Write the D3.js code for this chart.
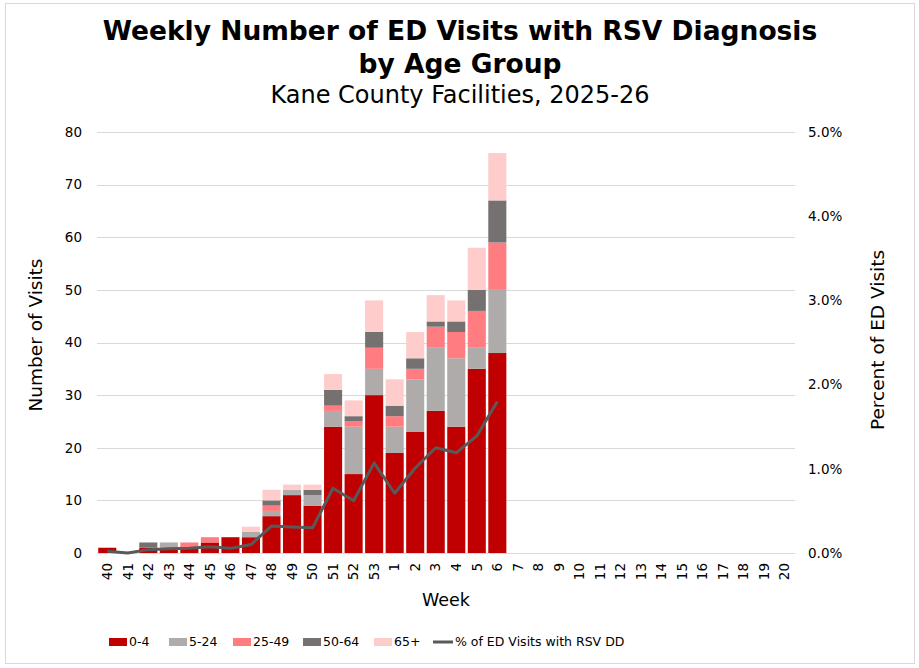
<!DOCTYPE html>
<html lang="en">
<head>
    <meta charset="UTF-8">
    <title>Weekly Number of ED Visits with RSV Diagnosis</title>
    <script src="https://d3js.org/d3.v7.min.js"></script>
    <style>
        body { margin: 0; background: #fff; }
        svg text { font-family: "DejaVu Sans", Verdana, sans-serif; fill: #000; }
    </style>
</head>
<body>
<svg id="chart" width="919" height="668"></svg>
<script>
    // weeks of the 2025-26 season
    var weeks = ["40", "41", "42", "43", "44", "45", "46", "47", "48", "49", "50", "51", "52", "53",
        "1", "2", "3", "4", "5", "6", "7", "8", "9", "10", "11", "12", "13", "14", "15", "16", "17", "18", "19", "20"];

    // visits per age group (weeks 40 .. 6)
    var age0_4   = [1, 0, 1, 1, 1, 2, 3, 3, 7, 11, 9, 24, 15, 30, 19, 23, 27, 24, 35, 38];
    var age5_24  = [0, 0, 0, 1, 0, 0, 0, 1, 1, 1, 2, 3, 9, 5, 5, 10, 12, 13, 4, 12];
    var age25_49 = [0, 0, 0, 0, 1, 1, 0, 0, 1, 0, 0, 1, 1, 4, 2, 2, 4, 5, 7, 9];
    var age50_64 = [0, 0, 1, 0, 0, 0, 0, 0, 1, 0, 1, 3, 1, 3, 2, 2, 1, 2, 4, 8];
    var age65    = [0, 0, 0, 0, 0, 0, 0, 1, 2, 1, 1, 3, 3, 6, 5, 5, 5, 4, 8, 9];

    // % of ED visits with RSV diagnosis
    var pctRsv = [0.02, 0, 0.04, 0.05, 0.055, 0.075, 0.055, 0.10, 0.32, 0.31, 0.30, 0.77, 0.62, 1.07,
        0.71, 1.01, 1.25, 1.19, 1.39, 1.80];

    var groups = ["0-4", "5-24", "25-49", "50-64", "65+"];
    var color = ["#c00000", "#afabab", "#ff7c80", "#767171", "#ffcccc"];
    var leftTicks = [0, 10, 20, 30, 40, 50, 60, 70, 80];
    var rightTicks = [0, 1, 2, 3, 4, 5];

    var svg = d3.select("#chart");
    var plotLeft = 97, plotRight = 795, plotTop = 132, plotBottom = 553;

    svg.append("rect")
        .attr("x", 5.5).attr("y", 3.5)
        .attr("width", 909).attr("height", 660)
        .attr("fill", "#fff").attr("stroke", "#d9d9d9");

    var x = d3.scaleBand().domain(weeks).range([plotLeft, plotRight]).paddingInner(0.12).paddingOuter(0.06);
    var y = d3.scaleLinear().domain([0, 80]).range([plotBottom, plotTop]);
    var y2 = d3.scaleLinear().domain([0, 5]).range([plotBottom, plotTop]);

    // gridlines
    svg.append("g")
        .selectAll("line")
        .data(leftTicks)
        .enter()
        .append("line")
        .attr("x1", plotLeft).attr("x2", plotRight)
        .attr("y1", function (d) { return Math.round(y(d)) + 0.5; })
        .attr("y2", function (d) { return Math.round(y(d)) + 0.5; })
        .attr("stroke", "#d9d9d9").attr("stroke-width", 1);

    // axes
    var yAxis = svg.append("g")
        .attr("transform", "translate(" + plotLeft + ",0)")
        .call(d3.axisLeft(y).tickValues(leftTicks).tickSize(0).tickPadding(15));
    yAxis.select(".domain").remove();
    yAxis.selectAll("text").attr("font-size", 13.5).attr("fill", "#000");

    var y2Axis = svg.append("g")
        .attr("transform", "translate(" + plotRight + ",0)")
        .call(d3.axisRight(y2).tickValues(rightTicks).tickSize(0).tickPadding(13)
            .tickFormat(function (d) { return d.toFixed(1) + "%"; }));
    y2Axis.select(".domain").remove();
    y2Axis.selectAll("text").attr("font-size", 13.5).attr("fill", "#000");

    var xAxis = svg.append("g")
        .attr("transform", "translate(0," + plotBottom + ")")
        .call(d3.axisBottom(x).tickSize(0).tickPadding(0));
    xAxis.select(".domain").remove();
    xAxis.selectAll("text")
        .attr("font-size", 13.5)
        .attr("fill", "#000")
        .attr("text-anchor", "end")
        .attr("transform", "translate(0,10) rotate(-90)")
        .attr("x", 0).attr("y", 0).attr("dy", "0.35em");

    // stacked bars
    var rows = age0_4.map(function (d, i) {
        return {week: weeks[i], "0-4": age0_4[i], "5-24": age5_24[i], "25-49": age25_49[i],
            "50-64": age50_64[i], "65+": age65[i]};
    });
    var series = d3.stack().keys(groups)(rows);

    svg.append("g")
        .selectAll("g")
        .data(series)
        .enter()
        .append("g")
        .attr("fill", function (d, i) { return color[i]; })
        .selectAll("rect")
        .data(function (d) { return d; })
        .enter()
        .append("rect")
        .attr("x", function (d) { return x(d.data.week); })
        .attr("width", x.bandwidth())
        .attr("y", function (d) { return y(d[1]); })
        .attr("height", function (d) { return y(d[0]) - y(d[1]); });

    // percent line
    var line = d3.line()
        .x(function (d, i) { return x(weeks[i]) + x.bandwidth() / 2; })
        .y(function (d) { return y2(d); });
    svg.append("path")
        .datum(pctRsv)
        .attr("d", line)
        .attr("fill", "none")
        .attr("stroke", "#595959")
        .attr("stroke-width", 3)
        .attr("stroke-linejoin", "round");

    // titles
    svg.append("text").attr("x", 460).attr("y", 40).attr("text-anchor", "middle")
        .attr("font-size", 26.5).attr("font-weight", "bold")
        .text("Weekly Number of ED Visits with RSV Diagnosis");
    svg.append("text").attr("x", 460).attr("y", 73).attr("text-anchor", "middle")
        .attr("font-size", 26.5).attr("font-weight", "bold")
        .text("by Age Group");
    svg.append("text").attr("x", 460).attr("y", 103).attr("text-anchor", "middle")
        .attr("font-size", 24)
        .text("Kane County Facilities, 2025-26");

    svg.append("text").attr("transform", "translate(42,335) rotate(-90)").attr("text-anchor", "middle")
        .attr("font-size", 18.5).text("Number of Visits");
    svg.append("text").attr("transform", "translate(884,340) rotate(-90)").attr("text-anchor", "middle")
        .attr("font-size", 18.5).text("Percent of ED Visits");
    svg.append("text").attr("x", 446).attr("y", 606).attr("text-anchor", "middle")
        .attr("font-size", 17.5).text("Week");

    // legend
    var legendX = [109, 169, 233, 303, 374];
    var legend = svg.append("g");
    groups.forEach(function (g, i) {
        legend.append("rect")
            .attr("x", legendX[i]).attr("y", 638)
            .attr("width", 18).attr("height", 8)
            .attr("fill", color[i]);
        legend.append("text")
            .attr("x", legendX[i] + 20).attr("y", 642).attr("dy", "0.35em")
            .attr("font-size", 12.5).text(g);
    });
    legend.append("line")
        .attr("x1", 433).attr("x2", 453).attr("y1", 642).attr("y2", 642)
        .attr("stroke", "#595959").attr("stroke-width", 3);
    legend.append("text")
        .attr("x", 455).attr("y", 642).attr("dy", "0.35em")
        .attr("font-size", 12.5).text("% of ED Visits with RSV DD");
</script>
</body>
</html>
